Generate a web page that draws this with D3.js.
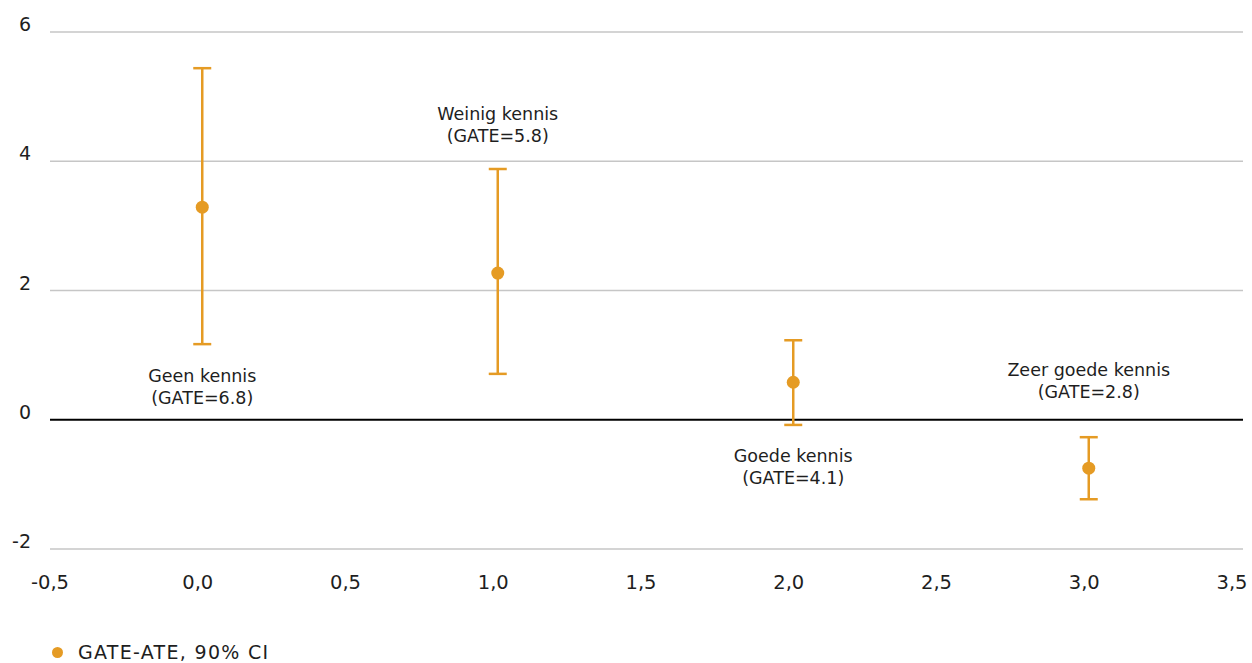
<!DOCTYPE html>
<html lang="nl">
<head>
<meta charset="UTF-8">
<script src="https://d3js.org/d3.v7.min.js"></script>
<style>
    body { margin: 0; background: #fff; }
    text { font-family: "DejaVu Sans", sans-serif; fill: #1e1e1e; }
</style>
</head>
<body>
<script>
    // data
    var groups = ["Geen kennis", "Weinig kennis", "Goede kennis", "Zeer goede kennis"];
    var gates = ["(GATE=6.8)", "(GATE=5.8)", "(GATE=4.1)", "(GATE=2.8)"];
    var xPos = [0, 1, 2, 3];
    var estimate = [3.29, 2.27, 0.58, -0.75];
    var lower = [1.17, 0.71, -0.08, -1.23];
    var upper = [5.44, 3.88, 1.23, -0.27];
    // vertical position of the annotation (first line), in data units
    var labelY = [0.58, 4.64, -0.65, 0.68];
    var xTicks = [-0.5, 0, 0.5, 1, 1.5, 2, 2.5, 3, 3.5];
    var yTicks = [-2, 0, 2, 4, 6];
    var legendLabel = "GATE-ATE, 90% CI";

    var width = 1252, height = 663;
    var orange = "#E59B24";

    var svg = d3.select("body").append("svg")
        .attr("width", width)
        .attr("height", height);

    var x = d3.scaleLinear().domain([-0.5, 3.5]).range([54.5, 1236.5]);
    var y = d3.scaleLinear().domain([-2, 6]).range([549, 32]);
    var gridLeft = 50, gridRight = 1243;

    // horizontal gridlines
    svg.append("g").selectAll("line")
        .data(yTicks)
        .join("line")
        .attr("x1", gridLeft).attr("x2", gridRight)
        .attr("y1", d => y(d)).attr("y2", d => y(d))
        .attr("stroke", d => d === 0 ? "#000" : "#c6c6c6")
        .attr("stroke-width", d => d === 0 ? 2 : 1.3);

    // y labels
    svg.append("g").selectAll("text")
        .data(yTicks)
        .join("text")
        .attr("x", 31)
        .attr("y", d => y(d) - 1)
        .attr("text-anchor", "end")
        .attr("font-size", 19)
        .text(d => d);

    // x labels
    var fmt = d => d3.format(".1f")(d).replace(".", ",").replace("−", "-");
    svg.append("g").selectAll("text")
        .data(xTicks)
        .join("text")
        .attr("x", d => x(d) - 4.5)
        .attr("y", 589)
        .attr("text-anchor", "middle")
        .attr("font-size", 19.5)
        .text(fmt);

    // error bars
    var bars = svg.append("g").selectAll("g")
        .data(xPos.map((p, i) => ({p: p, i: i})))
        .join("g");

    bars.append("line")
        .attr("x1", d => x(d.p)).attr("x2", d => x(d.p))
        .attr("y1", d => y(lower[d.i])).attr("y2", d => y(upper[d.i]))
        .attr("stroke", orange).attr("stroke-width", 2.5);

    [lower, upper].forEach(function (arr) {
        bars.append("line")
            .attr("x1", d => x(d.p) - 9).attr("x2", d => x(d.p) + 9)
            .attr("y1", d => y(arr[d.i])).attr("y2", d => y(arr[d.i]))
            .attr("stroke", orange).attr("stroke-width", 2.5);
    });

    bars.append("circle")
        .attr("cx", d => x(d.p))
        .attr("cy", d => y(estimate[d.i]))
        .attr("r", 6.5)
        .attr("fill", orange);

    // annotations
    bars.append("text")
        .attr("y", d => y(labelY[d.i]))
        .attr("text-anchor", "middle")
        .attr("font-size", 17.5)
        .each(function (d) {
            var t = d3.select(this);
            t.append("tspan").attr("x", x(d.p)).text(groups[d.i]);
            t.append("tspan").attr("x", x(d.p)).attr("dy", 22).text(gates[d.i]);
        });

    // legend
    svg.append("circle")
        .attr("cx", 57.5).attr("cy", 652.5).attr("r", 5.5)
        .attr("fill", orange);
    svg.append("text")
        .attr("x", 78).attr("y", 659)
        .attr("font-size", 19)
        .attr("letter-spacing", 1.3)
        .text(legendLabel);
</script>
</body>
</html>
